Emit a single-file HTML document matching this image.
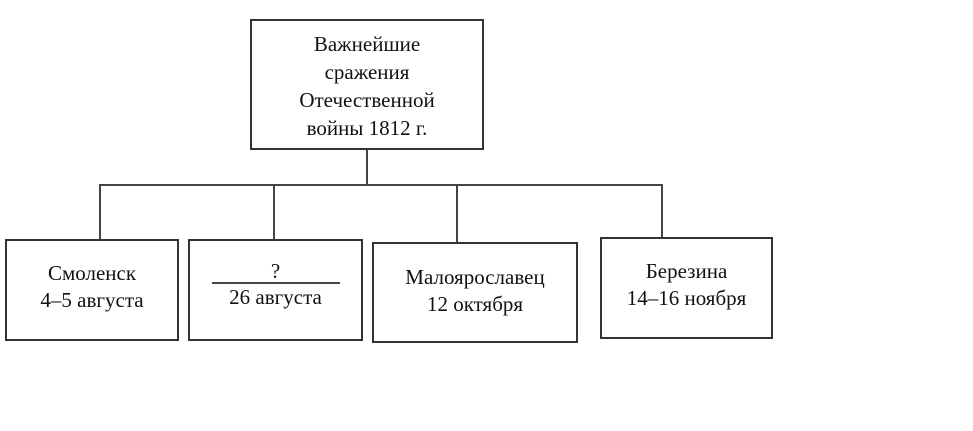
<!DOCTYPE html>
<html><head><meta charset="utf-8"><style>
body{margin:0;width:973px;height:431px;background:#fff;position:relative;overflow:hidden;font-family:"Liberation Serif",serif;color:#111}
.b{position:absolute;border:2px solid #333;box-sizing:border-box;text-align:center;font-size:21px;line-height:27px}
.l{position:absolute;background:#444}
</style></head><body>
<div class="b" style="left:250px;top:19px;width:234px;height:131px;padding-top:9px;line-height:28px">Важнейшие<br>сражения<br>Отечественной<br>войны 1812 г.</div>
<div class="l" style="left:366px;top:150px;width:2px;height:35px"></div>
<div class="l" style="left:99px;top:184px;width:564px;height:2px"></div>
<div class="l" style="left:99px;top:184px;width:2px;height:56px"></div>
<div class="l" style="left:273px;top:184px;width:2px;height:56px"></div>
<div class="l" style="left:456px;top:184px;width:2px;height:59px"></div>
<div class="l" style="left:661px;top:184px;width:2px;height:54px"></div>
<div class="b" style="left:5px;top:239px;width:174px;height:102px;padding-top:19px">Смоленск<br>4–5 августа</div>
<div class="b" style="left:188px;top:239px;width:175px;height:102px;padding-top:17px">?<div style="margin:-3px auto 0;width:128px;height:2px;background:#444"></div>26 августа</div>
<div class="b" style="left:372px;top:242px;width:206px;height:101px;padding-top:20px">Малоярославец<br>12 октября</div>
<div class="b" style="left:600px;top:237px;width:173px;height:102px;padding-top:19px">Березина<br>14–16 ноября</div>
</body></html>
